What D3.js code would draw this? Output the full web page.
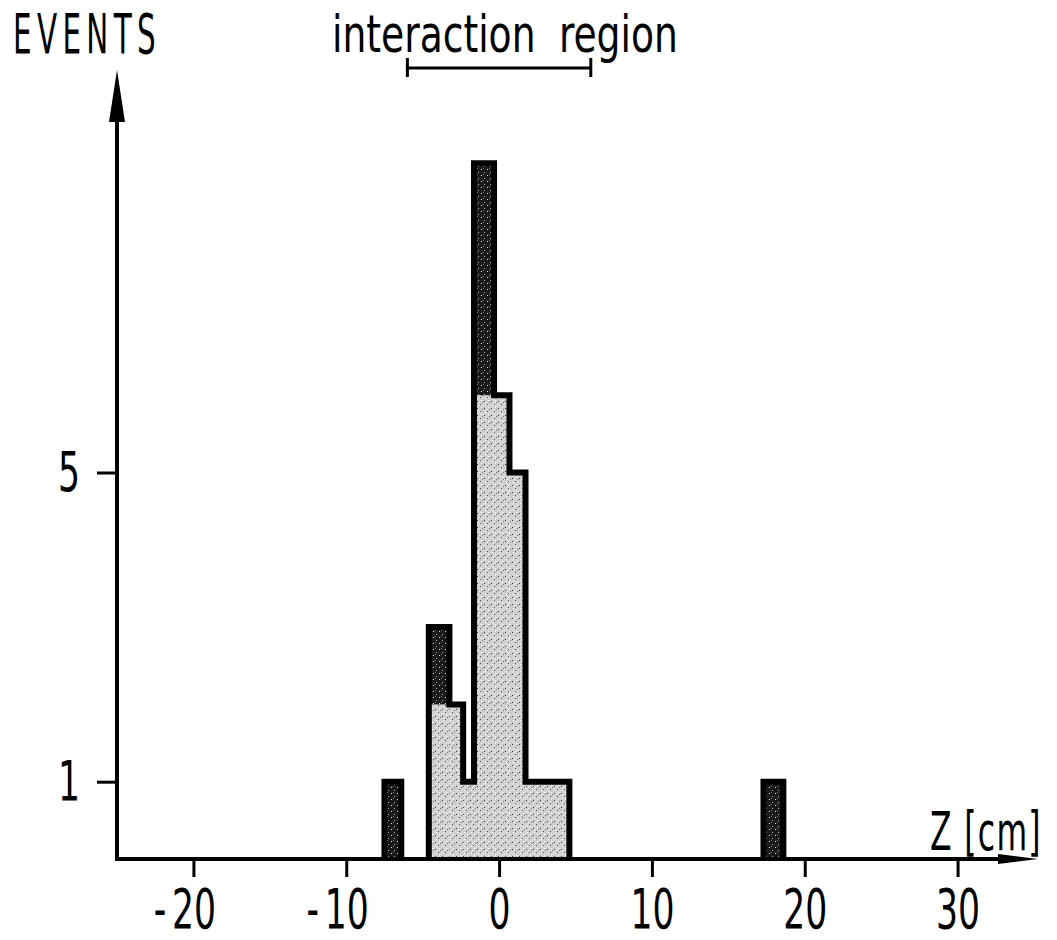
<!DOCTYPE html>
<html>
<head>
<meta charset="utf-8">
<script src="https://cdn.jsdelivr.net/npm/d3@7/dist/d3.min.js"></script>
<style>
  html, body { margin: 0; padding: 0; background: #fff; }
  svg { display: block; }
  text { font-family: "DejaVu Sans Condensed", "Liberation Sans Narrow", sans-serif; fill: #000; }
</style>
</head>
<body>
<script>
// ---- data ----
const binLo  = [-7.5, -4.6, -3.25, -2.35, -1.64, -0.33, 0.68, 1.73, 17.3];
const binHi  = [-6.4, -3.25, -2.35, -1.64, -0.33, 0.68, 1.73, 4.6, 18.6];
const counts = [1, 3, 2, 1, 9, 6, 5, 1, 1];
const xTicks = [-20, -10, 0, 10, 20, 30];
const xTickLabels = ["-20", "-10", "0", "10", "20", "30"];
const yTicks = [1, 5];
const yTickLabels = ["1", "5"];
const regionRange = [-6, 6];
const yTitle = "EVENTS";
const xTitle = "Z [cm]";
const regionTitle = "interaction region";

const W = 1057, H = 940;
const FONT = '"DejaVu Sans Condensed", "Liberation Sans Narrow", sans-serif';
const SX = 0.7; // horizontal squeeze of the condensed lettering
const svg = d3.select("body").append("svg").attr("width", W).attr("height", H);

const x = d3.scaleLinear().domain([-25, 35]).range([117, 1034]);
const y = d3.scaleLinear().domain([0, 10]).range([859, 86]);
const y0 = y(0);

// patterns
const defs = svg.append("defs");
const lp = defs.append("pattern").attr("id", "lightP").attr("width", 7).attr("height", 7).attr("patternUnits", "userSpaceOnUse");
lp.append("rect").attr("width", 7).attr("height", 7).attr("fill", "#d0d0d0");
[[1,2,"#333"],[4,5,"#555"],[5,1,"#fff"],[2,6,"#fff"],[6,3,"#777"],[3,3,"#f4f4f4"]].forEach(([a,b,c]) =>
  lp.append("rect").attr("x", a).attr("y", b).attr("width", 1).attr("height", 1).attr("fill", c));
const dp = defs.append("pattern").attr("id", "darkP").attr("width", 6).attr("height", 6).attr("patternUnits", "userSpaceOnUse");
dp.append("rect").attr("width", 6).attr("height", 6).attr("fill", "#1a1a1a");
[[1,1,"#ddd"],[4,4,"#aaa"],[3,0,"#777"]].forEach(([a,b,c]) =>
  dp.append("rect").attr("x", a).attr("y", b).attr("width", 1).attr("height", 1).attr("fill", c));

const bins = counts.map((c, i) => ({lo: binLo[i], hi: binHi[i], c, i}));
const adj = (i, j) => j >= 0 && j < bins.length &&
  (Math.abs(binHi[Math.min(i,j)] - binLo[Math.max(i,j)]) < 1e-6);

// light fill
svg.append("g").selectAll("rect").data(bins).join("rect")
  .attr("x", d => x(d.lo)).attr("width", d => x(d.hi) - x(d.lo))
  .attr("y", d => y(d.c)).attr("height", d => y0 - y(d.c))
  .attr("fill", "url(#lightP)");

// dark fill on exposed parts
svg.append("g").selectAll("rect").data(bins.map(d => {
    const nl = adj(d.i, d.i - 1) ? counts[d.i - 1] : 0;
    const nr = adj(d.i, d.i + 1) ? counts[d.i + 1] : 0;
    return {...d, from: Math.max(nl, nr)};
  }).filter(d => d.c > d.from)).join("rect")
  .attr("x", d => x(d.lo)).attr("width", d => x(d.hi) - x(d.lo))
  .attr("y", d => y(d.c)).attr("height", d => y(d.from) - y(d.c))
  .attr("fill", "url(#darkP)");

// outline
let pathStr = "";
bins.forEach((d, i) => {
  if (!adj(i, i - 1)) pathStr += `M${x(d.lo)},${y0}L${x(d.lo)},${y(d.c)}`;
  else pathStr += `L${x(d.lo)},${y(d.c)}`;
  pathStr += `L${x(d.hi)},${y(d.c)}`;
  if (!adj(i, i + 1)) pathStr += `L${x(d.hi)},${y0}`;
});
svg.append("path").attr("d", pathStr).attr("fill", "none")
  .attr("stroke", "#000").attr("stroke-width", 6).attr("stroke-linejoin", "miter");

// x axis
const xAxis = svg.append("g").attr("transform", `translate(0,${y0})`)
  .call(d3.axisBottom(x).tickValues(xTicks).tickSize(18).tickFormat((d, i) => xTickLabels[i]));
xAxis.select(".domain").remove();
xAxis.selectAll(".tick line").attr("stroke", "#000").attr("stroke-width", 3);
xAxis.selectAll(".tick text").each(function(d, i) {
  const t = d3.select(this);
  const lab = xTickLabels[i];
  const digits = lab.replace("-", "");
  t.text(null).attr("y", 69).attr("dy", 0).attr("font-size", 55)
    .attr("transform", `scale(${SX},1)`).style("font-family", FONT);
  if (lab.startsWith("-")) {
    t.append("tspan").text("-");
    t.append("tspan").attr("dx", 8).text(digits);
  } else {
    t.text(lab);
  }
  // centre the digits (not the minus sign) on the tick
  t.attr("text-anchor", "end");
  const full = this.getComputedTextLength();
  const dg = t.append("tspan").attr("visibility", "hidden"); dg.remove();
  const tmp = xAxis.append("text").attr("font-size", 55).style("font-family", FONT).text(digits);
  const dw = tmp.node().getComputedTextLength(); tmp.remove();
  t.attr("x", dw / 2);
});
svg.append("line").attr("x1", x(-25)).attr("x2", 1000).attr("y1", y0).attr("y2", y0)
  .attr("stroke", "#000").attr("stroke-width", 4);
svg.append("path").attr("d", `M998,${y0 - 5}L1038,${y0}L998,${y0 + 5}Z`).attr("fill", "#000");

// y axis
const yAxis = svg.append("g").attr("transform", `translate(${x(-25)},0)`)
  .call(d3.axisLeft(y).tickValues(yTicks).tickSize(20).tickFormat((d, i) => yTickLabels[i]));
yAxis.select(".domain").remove();
yAxis.selectAll(".tick line").attr("stroke", "#000").attr("stroke-width", 3);
yAxis.selectAll(".tick text").attr("x", -48 / SX).attr("dy", "0.33em").attr("font-size", 55)
  .attr("text-anchor", "middle").attr("transform", `scale(${SX},1)`)
  .style("font-family", FONT);
svg.append("line").attr("x1", x(-25)).attr("x2", x(-25)).attr("y1", y0 + 2).attr("y2", 118)
  .attr("stroke", "#000").attr("stroke-width", 4);
svg.append("path").attr("d", `M${x(-25) - 8},122L${x(-25)},70L${x(-25) + 8},122Z`).attr("fill", "#000");

// titles, squeezed horizontally to the reference widths
function fitText(str, x0, yb, size, width, opts = {}) {
  const t = svg.append("text").attr("x", 0).attr("y", 0).attr("font-size", size)
    .style("font-family", FONT).text(str);
  if (opts.ls) t.attr("letter-spacing", opts.ls);
  if (opts.ws) t.attr("word-spacing", opts.ws);
  const w = t.node().getComputedTextLength();
  t.attr("transform", `translate(${x0},${yb}) scale(${width / w},1)`);
  return t;
}
fitText(yTitle, 13, 53, 55, 148, {ls: 9});
fitText(regionTitle, 332, 52, 51, 346, {ws: 14});
fitText(xTitle, 930, 850, 53, 112, {ls: 2});

// interaction region bracket
const br = svg.append("g").attr("stroke", "#000").attr("stroke-width", 3);
br.append("line").attr("x1", x(regionRange[0])).attr("x2", x(regionRange[1])).attr("y1", 68).attr("y2", 68);
br.append("line").attr("x1", x(regionRange[0])).attr("x2", x(regionRange[0])).attr("y1", 58).attr("y2", 77);
br.append("line").attr("x1", x(regionRange[1])).attr("x2", x(regionRange[1])).attr("y1", 58).attr("y2", 77);
</script>
</body>
</html>
